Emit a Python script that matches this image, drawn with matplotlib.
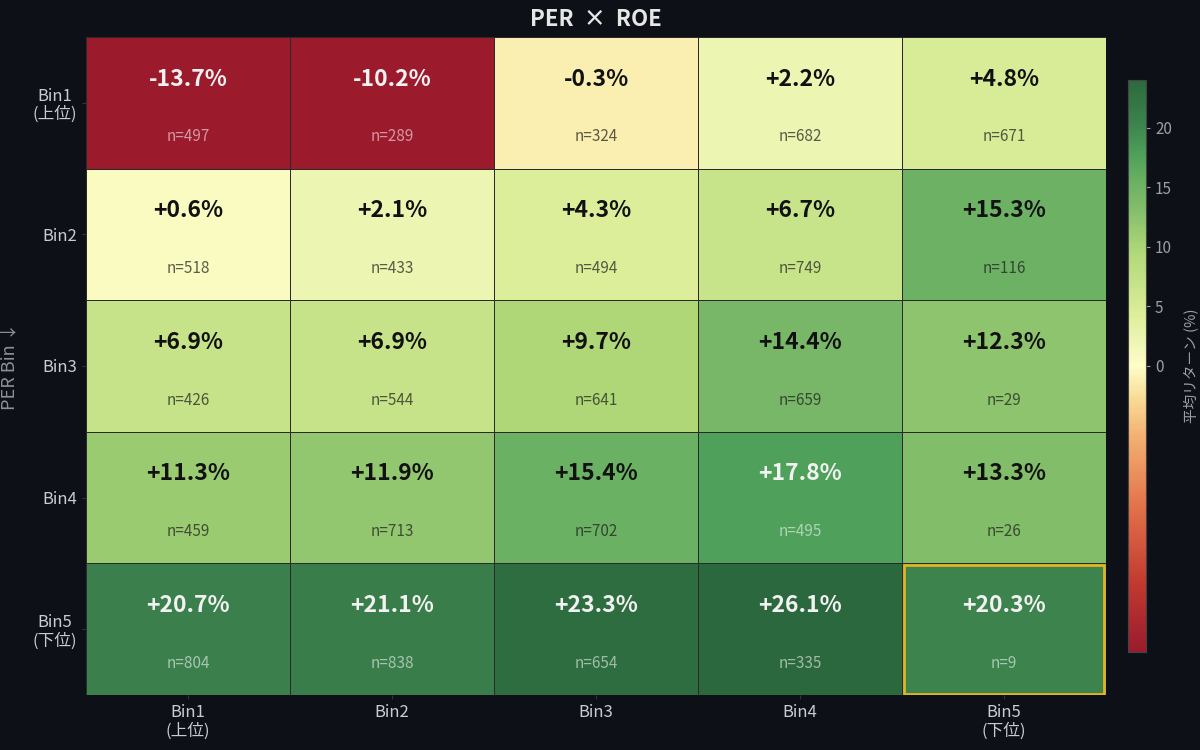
import numpy as np
import matplotlib
matplotlib.use("Agg")
import matplotlib.pyplot as plt
from matplotlib.colors import LinearSegmentedColormap, TwoSlopeNorm
from matplotlib.patches import Rectangle

plt.rcParams['font.family'] = ['Noto Sans CJK JP', 'DejaVu Sans']

# PER bins (rows) x ROE bins (cols): mean return % and sample counts
row_labels = ["Bin1\n(上位)", "Bin2", "Bin3", "Bin4", "Bin5\n(下位)"]
col_labels = ["Bin1\n(上位)", "Bin2", "Bin3", "Bin4", "Bin5\n(下位)"]
returns = np.array([
    [-13.7, -10.2, -0.3, 2.2, 4.8],
    [0.6, 2.1, 4.3, 6.7, 15.3],
    [6.9, 6.9, 9.7, 14.4, 12.3],
    [11.3, 11.9, 15.4, 17.8, 13.3],
    [20.7, 21.1, 23.3, 26.1, 20.3],
])
counts = np.array([
    [497, 289, 324, 682, 671],
    [518, 433, 494, 749, 116],
    [426, 544, 641, 659, 29],
    [459, 713, 702, 495, 26],
    [804, 838, 654, 335, 9],
])
highlight = (4, 4)  # row, col

BG = "#0d1117"
cmap = LinearSegmentedColormap.from_list("ret", [
    (0.00, "#9b1b2d"), (0.12, "#c23a30"), (0.25, "#e2704a"),
    (0.375, "#f2b070"), (0.45, "#f9e09a"), (0.50, "#fefdc8"),
    (0.542, "#eef6b4"), (0.59, "#dcee9a"), (0.64, "#c8e48a"),
    (0.70, "#b0d878"), (0.74, "#98ca71"), (0.777, "#82bd6a"),
    (0.82, "#6db264"), (0.87, "#4fa05a"), (0.927, "#3c824d"),
    (0.985, "#2f6e40"), (1.00, "#2c683d"),
])
norm = TwoSlopeNorm(vmin=-6, vcenter=0, vmax=24)

fig = plt.figure(figsize=(12, 7.5), dpi=100, facecolor=BG)
ax = fig.add_axes([0.0717, 0.0733, 0.85, 0.8774])
ax.set_facecolor(BG)

nr, nc = returns.shape
mesh = ax.pcolormesh(returns, cmap=cmap, norm=norm, edgecolors="#2a2a2a", linewidth=0.7)
ax.set_xlim(0, nc)
ax.set_ylim(nr, 0)

for i in range(nr):
    for j in range(nc):
        v = returns[i, j]
        t = norm(v)
        dark = t < 0.2 or t > 0.86
        vc = "#f2f2f2" if dark else "#111111"
        nc_col = (1, 1, 1, 0.55) if dark else (0.1, 0.1, 0.1, 0.7)
        ax.text(j + 0.5, i + 0.32, f"{v:+.1f}%", ha="center", va="center",
                fontsize=16.5, fontweight="bold", color=vc)
        ax.text(j + 0.5, i + 0.76, f"n={counts[i, j]}", ha="center", va="center",
                fontsize=11, color=nc_col)

r, c = highlight
ax.add_patch(Rectangle((c + 0.01, r + 0.01), 0.98, 0.98, fill=False,
                       edgecolor="#e0b422", linewidth=2.0, zorder=5))

ax.set_xticks(np.arange(nc) + 0.5)
ax.set_xticklabels(col_labels, fontsize=12, color="#c9cdd2", linespacing=1.1)
ax.set_yticks(np.arange(nr) + 0.5)
ax.set_yticklabels(row_labels, fontsize=12, color="#c9cdd2", multialignment="center",
                   linespacing=1.1)
ax.tick_params(length=3, color="#333333")
for s in ax.spines.values():
    s.set_visible(False)
ax.set_ylabel("PER Bin ↓", fontsize=13, color="#8b9099", labelpad=10)
ax.set_title("PER  ×  ROE", fontsize=16, fontweight="bold", color="#e6e6e6", pad=8)

cax = fig.add_axes([0.94, 0.1307, 0.015, 0.7627])
cb = fig.colorbar(mesh, cax=cax)
cb.set_ticks([0, 5, 10, 15, 20])
cb.ax.tick_params(labelsize=11, colors="#9aa0a6", length=3)
cb.outline.set_edgecolor("#444444")
cb.set_label("平均リターン (%)", fontsize=10.5, color="#9aa0a6", labelpad=8)

fig.savefig("out.png", dpi=100, facecolor=BG)
